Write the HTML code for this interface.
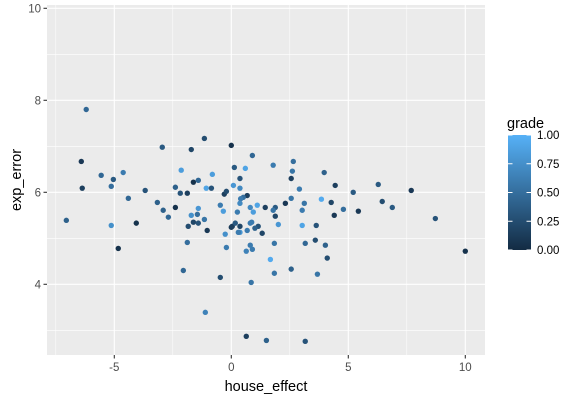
<!DOCTYPE html>
<html><head><meta charset="utf-8"><style>
body{margin:0;background:#fff;}
svg text{font-family:"Liberation Sans",Arial,sans-serif;}
</style></head><body>
<svg id="chart" width="576" height="402" xmlns="http://www.w3.org/2000/svg">
<defs><linearGradient id="grad" x1="0" y1="1" x2="0" y2="0"><stop offset="0" stop-color="#132B43"/><stop offset="1" stop-color="#56B1F7"/></linearGradient></defs>
<rect x="47" y="5" width="438" height="350" fill="#EBEBEB"/>
<g id="grid"></g>
<g id="points"></g>
<g id="axes"></g>
<text x="266" y="391" font-size="14.5" text-anchor="middle" fill="#000">house_effect</text>
<text transform="translate(21,180) rotate(-90)" font-size="14.5" text-anchor="middle" fill="#000">exp_error</text>
<g>
<text x="507" y="128" font-size="14.5" fill="#000">grade</text>
<rect x="508" y="135" width="23" height="115" fill="url(#grad)"/>
<g id="legend-ticks"></g>
</g>
</svg>
<script>
const xVals=[0.90,1.79,0.60,2.65,2.61,3.97,0.37,2.56,4.44,6.28,0.37,2.91,5.21,7.69,0.68,0.51,0.40,2.56,3.85,0.37,2.31,3.12,4.27,6.45,1.11,0.81,1.45,1.88,6.88,0.94,1.79,3.03,4.79,5.43,1.88,4.40,8.72,0.81,0.87,0.37,1.15,1.01,2.01,3.03,3.63,0.68,1.32,0.37,3.59,1.84,3.16,4.02,0.81,0.64,0.90,10.0,1.67,4.10,2.56,1.84,3.68,0.85,0.64,1.50,3.16,-2.95,-1.15,-1.71,0.00,-2.14,-0.81,0.13,-1.62,-1.41,-2.39,-1.07,-0.85,-2.18,-1.88,-0.30,-0.21,0.09,-3.16,-2.39,-2.91,-2.69,-1.41,-1.71,-1.45,-1.15,-1.62,-1.41,-1.84,-1.03,-0.47,-0.34,0.26,-0.26,0.00,0.04,0.17,0.30,-6.20,-6.41,-6.37,-5.56,-5.04,-5.13,-4.62,-4.40,-3.68,-7.05,-5.13,-4.06,-4.83,-1.88,-0.21,-2.05,-0.47,-1.11];
const yVals=[6.80,6.59,6.52,6.67,6.46,6.43,6.30,6.30,6.15,6.17,6.09,6.07,6.00,6.04,5.93,5.89,5.86,5.87,5.85,5.76,5.76,5.76,5.78,5.80,5.72,5.67,5.67,5.67,5.67,5.57,5.61,5.61,5.63,5.59,5.48,5.50,5.43,5.33,5.35,5.26,5.26,5.22,5.30,5.28,5.28,5.17,5.11,5.13,4.96,4.89,4.89,4.85,4.85,4.72,4.76,4.72,4.54,4.57,4.33,4.24,4.22,4.04,2.87,2.78,2.76,6.98,7.17,6.93,7.02,6.48,6.39,6.54,6.22,6.26,6.11,6.09,6.09,5.98,5.98,5.96,6.02,6.15,5.78,5.67,5.61,5.46,5.65,5.50,5.52,5.41,5.35,5.33,5.26,5.17,5.72,5.59,5.57,5.09,5.24,5.26,5.33,5.13,7.80,6.67,6.09,6.37,6.28,6.13,6.43,5.87,6.04,5.39,5.28,5.33,4.78,4.91,4.80,4.30,4.15,3.39];
const grades=[0.45,0.6,0.9,0.5,0.55,0.4,0.3,0.15,0.15,0.35,0.7,0.6,0.35,0.1,0.15,0.5,0.6,0.55,0.95,0.7,0.1,0.55,0.2,0.25,0.9,0.7,0.15,0.35,0.35,0.85,0.55,0.6,0.5,0.1,0.2,0.1,0.3,0.6,0.6,0.2,0.3,0.4,0.8,0.9,0.3,0.6,0.2,0.8,0.25,0.55,0.45,0.4,0.6,0.65,0.6,0.05,0.95,0.25,0.4,0.55,0.55,0.55,0.15,0.4,0.3,0.35,0.25,0.2,0.05,0.85,0.85,0.35,0.05,0.45,0.4,0.9,0.3,0.3,0.15,0.15,0.25,0.8,0.4,0.05,0.4,0.45,0.8,0.75,0.5,0.55,0.2,0.3,0.25,0.1,0.6,0.85,0.6,0.75,0.1,0.15,0.35,0.6,0.45,0.1,0.15,0.45,0.35,0.5,0.6,0.45,0.3,0.4,0.75,0.05,0.05,0.5,0.6,0.45,0.25,0.65];
const xTicks=[-5,0,5,10];
const yTicks=[4,6,8,10];
const xMinor=[-7.5,-2.5,2.5,7.5];
const yMinor=[3,5,7,9];
const legendTicks=[0,0.25,0.5,0.75,1];
const legendLabels=["0.00","0.25","0.50","0.75","1.00"];
const NS="http://www.w3.org/2000/svg";
const X=v=>231.3+v*23.4;
const Y=v=>192.3-(v-6)*46;
const L=v=>250-v*115;
function col(t){const a=[0x13,0x2B,0x43],b=[0x56,0xB1,0xF7];return "rgb("+a.map((c,i)=>Math.round(c+(b[i]-c)*t)).join(",")+")";}
function mk(tag,attrs,parent){const e=document.createElementNS(NS,tag);for(const k in attrs)e.setAttribute(k,attrs[k]);document.getElementById(parent).appendChild(e);return e;}
xMinor.forEach(v=>{const e=mk("line",{x1:X(v),x2:X(v),y1:5,y2:355,stroke:"#fff","stroke-width":0.55},"grid");

});
yMinor.forEach(v=>{const e=mk("line",{x1:47,x2:485,y1:Y(v),y2:Y(v),stroke:"#fff","stroke-width":0.55},"grid");

});
xTicks.forEach(v=>{const e=mk("line",{x1:X(v),x2:X(v),y1:5,y2:355,stroke:"#fff","stroke-width":1.1},"grid");


const t=mk("line",{x1:X(v),x2:X(v),y1:355,y2:358.5,stroke:"#333","stroke-width":1.1},"axes");


const l=mk("text",{x:X(v),y:371,"font-size":11.5,"text-anchor":"middle",fill:"#4D4D4D"},"axes");l.textContent=v;

});
yTicks.forEach(v=>{const e=mk("line",{x1:47,x2:485,y1:Y(v),y2:Y(v),stroke:"#fff","stroke-width":1.1},"grid");


const t=mk("line",{x1:43.5,x2:47,y1:Y(v),y2:Y(v),stroke:"#333","stroke-width":1.1},"axes");


const l=mk("text",{x:41,y:Y(v)+4,"font-size":11.5,"text-anchor":"end",fill:"#4D4D4D"},"axes");l.textContent=v;

});
xVals.forEach((v,i)=>{const c=mk("circle",{cx:X(v),cy:Y(yVals[i]),r:2.7,fill:col(grades[i])},"points");

});
legendTicks.forEach((v,i)=>{
const a=mk("line",{x1:508,x2:512.5,y1:L(v),y2:L(v),stroke:"#fff","stroke-width":1},"legend-ticks");


const b=mk("line",{x1:526.5,x2:531,y1:L(v),y2:L(v),stroke:"#fff","stroke-width":1},"legend-ticks");


const l=mk("text",{x:537,y:L(v)+4,"font-size":11.5,fill:"#000"},"legend-ticks");l.textContent=legendLabels[i];

});
</script>
</body></html>
